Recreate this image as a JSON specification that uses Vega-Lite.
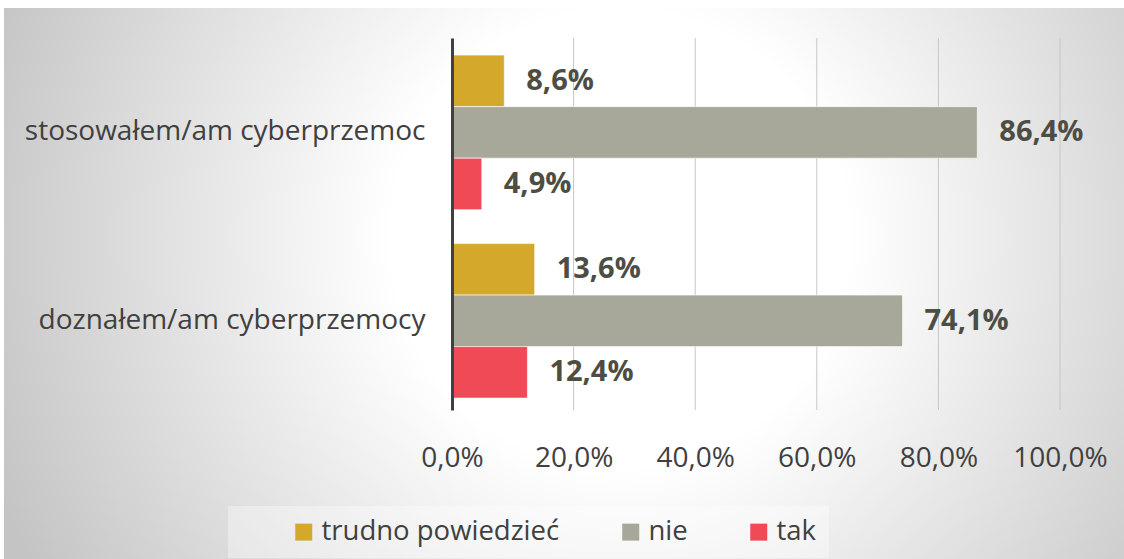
{
  "$schema": "https://vega.github.io/schema/vega-lite/v6.json",
  "width": 1120,
  "height": 551,
  "autosize": {"type": "none"},
  "padding": {"left": 4, "top": 8, "right": 0, "bottom": 0},
  "background": "#ffffff",
  "config": {
    "font": "Open Sans",
    "locale": {"number": {"decimal": ",", "thousands": "\u00a0", "grouping": [3], "currency": ["", " zł"]}},
    "view": {
      "stroke": null,
      "fill": {
        "gradient": "radial",
        "x1": 0.55, "y1": 0.46, "r1": 0,
        "x2": 0.55, "y2": 0.46, "r2": 0.6,
        "stops": [
          {"offset": 0, "color": "#ffffff"},
          {"offset": 0.34, "color": "#ffffff"},
          {"offset": 1, "color": "#c4c4c4"}
        ]
      }
    }
  },
  "data": {
    "values": [
      {"kategoria": "stosowałem/am cyberprzemoc", "odpowiedz": "trudno powiedzieć", "wartosc": 0.086},
      {"kategoria": "stosowałem/am cyberprzemoc", "odpowiedz": "nie", "wartosc": 0.864},
      {"kategoria": "stosowałem/am cyberprzemoc", "odpowiedz": "tak", "wartosc": 0.049},
      {"kategoria": "doznałem/am cyberprzemocy", "odpowiedz": "trudno powiedzieć", "wartosc": 0.136},
      {"kategoria": "doznałem/am cyberprzemocy", "odpowiedz": "nie", "wartosc": 0.741},
      {"kategoria": "doznałem/am cyberprzemocy", "odpowiedz": "tak", "wartosc": 0.124}
    ]
  },
  "encoding": {
    "x": {
      "field": "wartosc",
      "type": "quantitative",
      "scale": {"domain": [0, 1], "range": [448, 1056], "nice": false, "zero": false},
      "axis": {
        "orient": "bottom",
        "title": null,
        "values": [0, 0.2, 0.4, 0.6, 0.8, 1],
        "format": ".1%",
        "domain": false,
        "ticks": false,
        "tickSize": 0,
        "labelPadding": -101,
        "labelBaseline": "middle",
        "labelFontSize": 28,
        "labelColor": "#404040",
        "labelFlush": false,
        "grid": false
      }
    }
  },
  "layer": [
    {
      "data": {"values": [{"wartosc": 0.2}, {"wartosc": 0.4}, {"wartosc": 0.6}, {"wartosc": 0.8}, {"wartosc": 1.0}]},
      "mark": {"type": "rule", "color": "#c6c6c6", "strokeWidth": 1},
      "encoding": {
        "y": {"datum": 0, "type": "quantitative", "scale": {"domain": [0, 1], "range": [30, 402], "nice": false, "zero": false}, "axis": null},
        "y2": {"datum": 1}
      }
    },
    {
      "encoding": {
        "y": {
          "field": "kategoria",
          "type": "nominal",
          "sort": ["stosowałem/am cyberprzemoc", "doznałem/am cyberprzemocy"],
          "scale": {"range": [30, 402], "paddingInner": 0.18, "paddingOuter": 0.077, "align": 0.59, "round": false},
          "axis": {
            "orient": "left",
            "offset": -448,
            "title": null,
            "domain": true,
            "domainColor": "#404040",
            "domainWidth": 3,
            "ticks": false,
            "tickSize": 0,
            "labelPadding": 27,
            "labelFontSize": 28,
            "labelColor": "#404040",
            "labelLimit": 600,
            "grid": false,
            "zindex": 1
          }
        },
        "yOffset": {
          "field": "odpowiedz",
          "type": "nominal",
          "sort": ["trudno powiedzieć", "nie", "tak"],
          "scale": {"paddingInner": 0, "paddingOuter": 0}
        }
      },
      "layer": [
        {
          "mark": {"type": "bar", "stroke": "#ffffff", "strokeOpacity": 0.6, "strokeWidth": 1},
          "encoding": {
            "color": {
              "field": "odpowiedz",
              "type": "nominal",
              "scale": {"domain": ["trudno powiedzieć", "nie", "tak"], "range": ["#D4A82A", "#A7A899", "#EF4A55"]},
              "legend": {
                "orient": "none",
                "legendX": 224,
                "legendY": 498,
                "direction": "horizontal",
                "title": null,
                "fillColor": "rgba(255,255,255,0.35)",
                "padding": 12,
                "symbolType": "square",
                "symbolSize": 289,
                "symbolStrokeWidth": 0,
                "symbolOpacity": 1,
                "symbolOffset": 50,
                "labelFontSize": 27.5,
                "labelColor": "#404040",
                "labelOffset": 4,
                "columnPadding": 7,
                "labelLimit": 400
              }
            }
          }
        },
        {
          "mark": {"type": "text", "align": "left", "baseline": "middle", "dx": 22, "fontWeight": "bold", "fontSize": 29, "color": "#4d4d43"},
          "encoding": {"text": {"field": "wartosc", "type": "quantitative", "format": ".1%"}}
        }
      ]
    }
  ],
  "resolve": {"scale": {"y": "independent"}}
}
